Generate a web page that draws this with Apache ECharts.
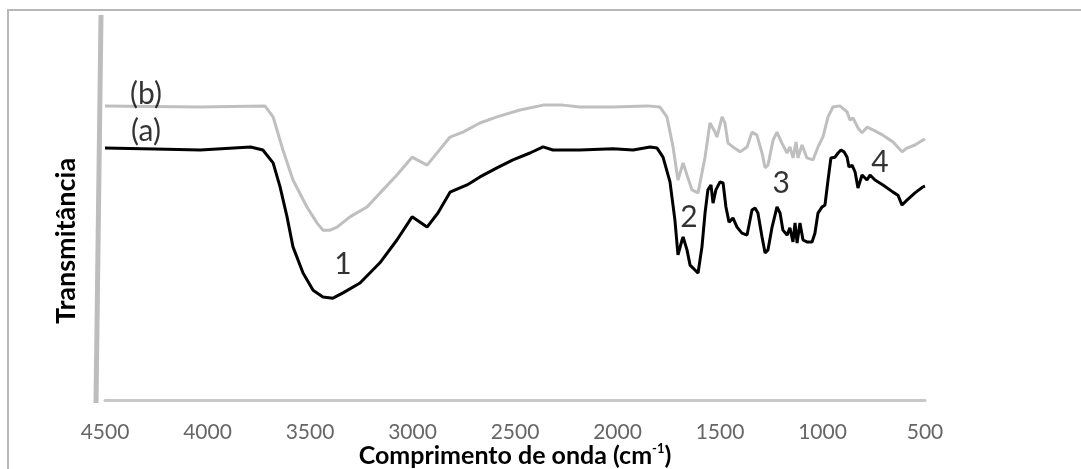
<!DOCTYPE html>
<html>
<head>
<meta charset="utf-8">
<title>Espectros FTIR</title>
<script src="https://cdn.jsdelivr.net/npm/echarts@6/dist/echarts.min.js"></script>
<style>
  html, body { margin: 0; padding: 0; background: #ffffff; }
  #chart { width: 1081px; height: 469px; }
</style>
</head>
<body>
<div id="chart"></div>
<script>
// Wavenumber axis ticks (cm-1), drawn right-to-left
const xTicks = [4500, 4000, 3500, 3000, 2500, 2000, 1500, 1000, 500];

// Spectrum (a): wavenumber / transmittance (arbitrary units)
const waveA = [4500, 4200, 4035, 3790, 3730, 3680, 3646, 3612, 3583, 3534, 3485, 3437, 3388, 3339, 3256, 3159, 3076,
  3002, 2929, 2876, 2817, 2734, 2671, 2588, 2510, 2427, 2363, 2315, 2183, 2022, 1924, 1841, 1807, 1778, 1744, 1720,
  1705, 1685, 1680, 1661, 1646, 1622, 1607, 1588, 1573, 1559, 1544, 1534, 1520, 1500, 1485, 1471, 1456, 1437, 1417,
  1393, 1368, 1344, 1329, 1315, 1295, 1280, 1266, 1246, 1222, 1207, 1193, 1173, 1159, 1144, 1134, 1124, 1110, 1095,
  1076, 1051, 1037, 1022, 1002, 988, 973, 959, 939, 924, 910, 895, 880, 871, 856, 841, 827, 807, 783, 768, 744, 705,
  656, 632, 612, 588, 549, 510, 500];
const transA = [66.3, 66.0, 65.8, 66.6, 65.8, 62.4, 56.1, 48.2, 40.3, 33.4, 28.9, 27.1, 26.8, 28.2, 30.8, 36.1, 42.1,
  48.2, 45.5, 49.2, 54.7, 56.6, 58.7, 61.1, 63.2, 65.0, 66.6, 65.8, 65.8, 66.1, 65.8, 66.6, 66.3, 63.9, 57.4, 47.4,
  38.2, 42.1, 42.9, 39.5, 35.5, 34.2, 33.4, 40.3, 49.2, 55.3, 56.6, 51.8, 55.3, 57.4, 57.1, 50.8, 46.8, 47.9, 45.5,
  43.9, 43.4, 50.0, 50.5, 49.2, 42.9, 38.7, 39.5, 45.5, 50.8, 49.2, 44.7, 43.4, 45.3, 41.6, 46.6, 41.3, 46.6, 42.1,
  41.6, 41.6, 43.9, 49.2, 50.8, 51.3, 57.9, 63.7, 63.9, 65.0, 65.8, 65.3, 63.9, 61.3, 61.8, 60.0, 55.8, 59.2, 57.9, 59.2, 57.9, 56.6,
  54.7, 53.9, 51.3, 52.6, 54.5, 56.1, 56.3];

// Spectrum (b): wavenumber / transmittance (arbitrary units)
const waveB = [4500, 4037, 3720, 3680, 3632, 3583, 3515, 3466, 3437, 3402, 3368, 3305, 3222, 3144, 3076, 3002, 2929,
  2876, 2817, 2754, 2671, 2588, 2476, 2363, 2266, 2183, 2022, 1856, 1793, 1759, 1729, 1705, 1680, 1661, 1637, 1607,
  1573, 1549, 1524, 1515, 1490, 1476, 1461, 1437, 1402, 1368, 1344, 1320, 1295, 1280, 1266, 1241, 1222, 1198, 1173,
  1159, 1144, 1129, 1120, 1100, 1076, 1046, 1022, 998, 973, 949, 915, 880, 866, 851, 827, 807, 783, 754, 705, 656,
  612, 588, 549, 510, 500];
const transB = [77.4, 77.1, 77.4, 74.5, 65.8, 57.9, 50.8, 46.6, 44.7, 44.7, 45.5, 48.2, 50.8, 55.3, 59.2, 63.9, 61.8,
  65.3, 69.2, 70.5, 72.9, 74.5, 76.3, 77.6, 77.6, 77.1, 77.1, 77.4, 77.1, 74.5, 66.6, 57.9, 62.4, 59.2, 55.3, 54.5,
  63.9, 72.9, 70.5, 69.2, 74.5, 72.9, 67.6, 66.6, 65.3, 66.6, 70.5, 69.7, 65.0, 61.1, 61.8, 68.4, 70.5, 67.6, 65.0,
  66.6, 63.7, 67.9, 63.7, 67.1, 63.7, 63.2, 66.6, 69.2, 74.5, 77.1, 77.4, 75.8, 73.7, 74.2, 71.6, 70.3, 71.8, 71.1, 69.7, 67.9,
  65.3, 66.3, 67.1, 68.4, 68.7];

// Text annotations: curve names and numbered bands
const noteText = ['(b)', '(a)', '1', '2', '3', '4'];
const noteWave = [4300, 4300, 3339, 1651, 1202, 720];
const noteTrans = [80.5, 70.8, 35.8, 48.2, 57.1, 62.6];

const pairs = (xs, ys) => xs.map((x, i) => [x, ys[i]]);

const chart = echarts.init(document.getElementById('chart'), null, { renderer: 'canvas' });

const option = {
  animation: false,
  backgroundColor: '#ffffff',
  grid: { left: 105, right: 156, top: 20, bottom: 69, outerBoundsMode: 'none', containLabel: false },
  xAxis: {
    type: 'value',
    inverse: true,
    min: 500,
    max: 4500,
    interval: 500,
    name: '{t|Comprimento de onda (cm}{s|-1}{t|)}',
    nameLocation: 'middle',
    nameGap: 42,
    nameMoveOverlap: false,
    nameTextStyle: {
      rich: {
        t: { fontFamily: 'Lato', fontWeight: 'bold', fontSize: 25, color: '#000000', verticalAlign: 'bottom', lineHeight: 26 },
        s: { fontFamily: 'Lato', fontWeight: 'bold', fontSize: 13, color: '#000000', verticalAlign: 'top', lineHeight: 26 }
      }
    },
    axisLine: { show: true, lineStyle: { color: '#c8c8c8', width: 3 } },
    axisTick: { show: false },
    splitLine: { show: false },
    axisLabel: {
      color: '#666666',
      fontFamily: 'Lato',
      fontSize: 21,
      margin: 22,
      formatter: v => (xTicks.indexOf(v) >= 0 ? String(v) : '')
    }
  },
  yAxis: {
    type: 'value',
    min: 0,
    max: 100,
    name: 'Transmitância',
    nameLocation: 'middle',
    nameRotate: 90,
    nameGap: 25,
    nameMoveOverlap: false,
    nameTextStyle: {
      fontFamily: 'Lato', fontWeight: 'bold', fontSize: 27, color: '#000000',
      padding: [0, 62, 0, 0]
    },
    axisLine: { show: false },
    axisTick: { show: false },
    axisLabel: { show: false },
    splitLine: { show: false }
  },
  graphic: [
    // frame edges (top and left)
    {
      type: 'polyline',
      silent: true,
      shape: { points: [[1081, 10], [8, 10], [8, 469]] },
      style: { stroke: '#b8b8b8', lineWidth: 2, fill: null }
    },
    // vertical axis bar
    {
      type: 'line',
      silent: true,
      shape: { x1: 101, y1: 15, x2: 96, y2: 403 },
      style: { stroke: '#bdbdbd', lineWidth: 5 }
    }
  ],
  series: [
    {
      name: '(b)',
      type: 'line',
      data: pairs(waveB, transB),
      showSymbol: false,
      lineStyle: { color: '#bfbfbf', width: 3 },
      z: 2
    },
    {
      name: '(a)',
      type: 'line',
      data: pairs(waveA, transA),
      showSymbol: false,
      lineStyle: { color: '#000000', width: 3 },
      z: 3
    },
    {
      name: 'notas',
      type: 'scatter',
      symbolSize: 1,
      itemStyle: { color: 'rgba(0,0,0,0)' },
      data: noteText.map((t, i) => ({ name: t, value: [noteWave[i], noteTrans[i]] })),
      label: {
        show: true,
        position: 'inside',
        formatter: p => p.name,
        fontFamily: 'Lato',
        fontSize: 30,
        color: '#000000'
      },
      z: 4
    }
  ]
};

chart.setOption(option);
</script>
</body>
</html>
